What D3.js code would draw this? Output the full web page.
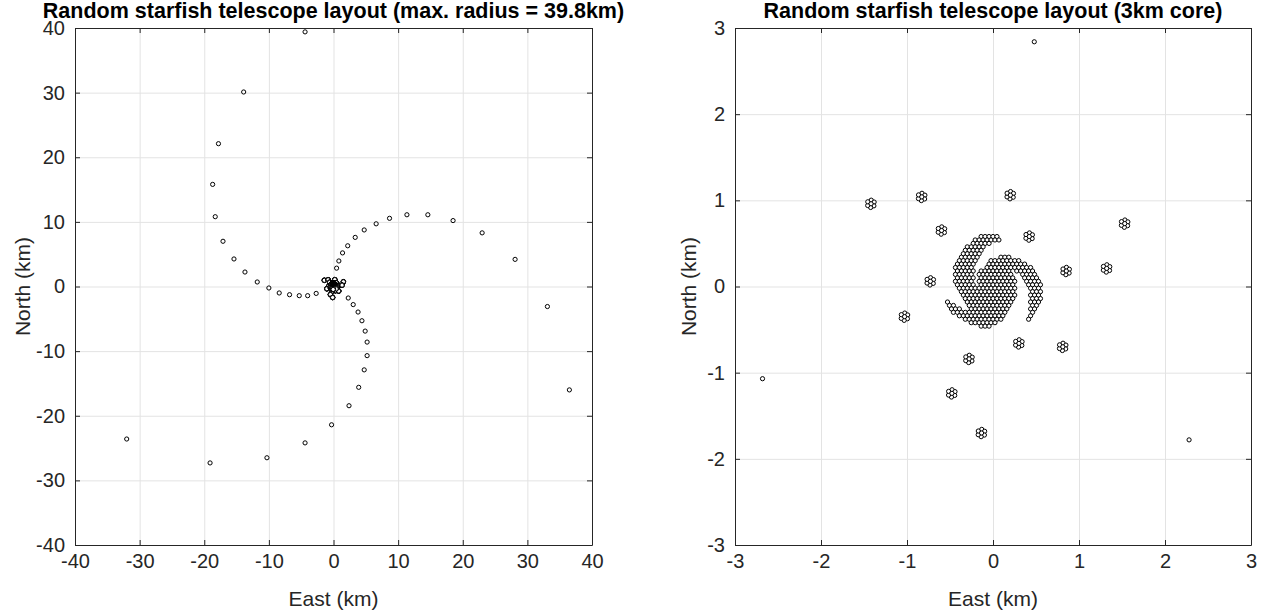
<!DOCTYPE html>
<html>
<head>
<meta charset="utf-8">
<script src="https://cdn.jsdelivr.net/npm/d3@7"></script>
<style>
  body { margin: 0; background: #fff; }
  text { font-family: "Liberation Sans", Arial, Helvetica, sans-serif; fill: #262626; }
  .title { font-weight: bold; font-size: 21.5px; fill: #000; }
  .axis text { font-size: 20px; fill: #262626; }
  .axis path, .axis line { stroke: #262626; }
  .grid line { stroke: #e3e3e3; }
  .grid path { display: none; }
  .label { font-size: 21px; }
  .station { fill: #fff; stroke: #000; stroke-width: 1; }
</style>
</head>
<body>
<svg id="chart" width="1271" height="615"></svg>
<script>
// Outer stations on the three arms (km)
const armNorthEast = [
  [0.48, 2.84], [0.83, 3.95], [1.4, 5.2], [2.2, 6.3], [3.36, 7.6], [4.75, 8.75],
  [6.6, 9.7], [8.67, 10.55], [11.36, 11.1], [14.6, 11.1], [18.5, 10.2], [23.0, 8.3],
  [28.1, 4.2], [33.1, -3.1], [36.5, -16.0]
];
const armSouth = [
  [2.28, -1.78], [3.05, -2.8], [3.8, -3.95], [4.4, -5.3], [4.9, -6.9], [5.2, -8.6],
  [5.2, -10.7], [4.75, -12.9], [3.9, -15.6], [2.4, -18.45], [-0.3, -21.4], [-4.4, -24.2],
  [-10.3, -26.5], [-19.1, -27.3], [-32.0, -23.6]
];
const armWest = [
  [-2.68, -1.07], [-4.0, -1.42], [-5.3, -1.42], [-6.8, -1.27], [-8.4, -1.0], [-10.0, -0.23],
  [-11.8, 0.7], [-13.7, 2.24], [-15.4, 4.26], [-17.1, 7.0], [-18.3, 10.8], [-18.7, 15.8],
  [-17.8, 22.1], [-13.9, 30.1], [-4.4, 39.4]
];

// Station clusters inside 2 km (centre of each cluster, km)
const clusterCentres = [
  [-1.42, 0.96], [-0.83, 1.04], [0.2, 1.06], [-0.6, 0.65], [0.42, 0.58], [1.53, 0.73],
  [-0.73, 0.06], [0.85, 0.18], [1.32, 0.21], [-1.03, -0.35], [0.3, -0.66], [0.81, -0.7],
  [-0.28, -0.84], [-0.48, -1.24], [-0.135, -1.7]
];
// stations inside one cluster (km from its centre)
const clusterOffsets = [
  [0.004, 0.042], [0.038, 0.02], [0.035, -0.024], [-0.003, -0.043], [-0.037, -0.02], [-0.036, 0.023], [0.002, 0.0]
];

// Core stations, read row by row (north in km, east positions in km)
const coreRows = [
  { y: 0.58, x: [-0.138, -0.092, -0.046, 0, 0.046] },
  { y: 0.54, x: [-0.207, -0.161, -0.115, -0.069, -0.023, 0.023, 0.069] },
  { y: 0.50, x: [-0.23, -0.184, -0.138, -0.092, -0.046] },
  { y: 0.46, x: [-0.299, -0.253, -0.207, -0.161, -0.115] },
  { y: 0.42, x: [-0.322, -0.276, -0.23, -0.184, -0.138] },
  { y: 0.38, x: [-0.345, -0.299, -0.253, -0.207, -0.161] },
  { y: 0.34, x: [-0.368, -0.322, -0.276, -0.23, -0.184, 0.092, 0.138, 0.184] },
  { y: 0.30, x: [-0.391, -0.345, -0.299, -0.253, -0.207, -0.023, 0.023, 0.069, 0.115, 0.161, 0.207, 0.253, 0.299] },
  { y: 0.26, x: [-0.414, -0.368, -0.322, -0.276, -0.23, -0.046, 0, 0.046, 0.092, 0.138, 0.184, 0.23, 0.276, 0.322, 0.368] },
  { y: 0.22, x: [-0.437, -0.391, -0.345, -0.299, -0.253, -0.069, -0.023, 0.023, 0.069, 0.115, 0.161, 0.207, 0.253, 0.299, 0.345, 0.391, 0.437] },
  { y: 0.18, x: [-0.414, -0.368, -0.322, -0.276, -0.23, -0.138, -0.092, -0.046, 0, 0.046, 0.092, 0.138, 0.184, 0.276, 0.322, 0.368, 0.414, 0.46] },
  { y: 0.14, x: [-0.437, -0.391, -0.345, -0.299, -0.253, -0.161, -0.115, -0.069, -0.023, 0.023, 0.069, 0.115, 0.161, 0.207, 0.345, 0.391, 0.437, 0.483] },
  { y: 0.10, x: [-0.414, -0.368, -0.322, -0.276, -0.23, -0.138, -0.092, -0.046, 0, 0.046, 0.092, 0.138, 0.184, 0.23, 0.368, 0.414, 0.46, 0.506] },
  { y: 0.06, x: [-0.437, -0.391, -0.345, -0.299, -0.253, -0.161, -0.115, -0.069, -0.023, 0.023, 0.069, 0.115, 0.161, 0.207, 0.253, 0.391, 0.437, 0.483, 0.529] },
  { y: 0.02, x: [-0.414, -0.368, -0.322, -0.276, -0.23, -0.138, -0.092, -0.046, 0, 0.046, 0.092, 0.138, 0.184, 0.23, 0.414, 0.46, 0.506, 0.552] },
  { y: -0.02, x: [-0.391, -0.345, -0.299, -0.253, -0.207, -0.161, -0.115, -0.069, -0.023, 0.023, 0.069, 0.115, 0.161, 0.207, 0.253, 0.437, 0.483, 0.529] },
  { y: -0.06, x: [-0.368, -0.322, -0.276, -0.23, -0.184, -0.138, -0.092, -0.046, 0, 0.046, 0.092, 0.138, 0.184, 0.23, 0.46, 0.506, 0.552] },
  { y: -0.10, x: [-0.345, -0.299, -0.253, -0.207, -0.161, -0.115, -0.069, -0.023, 0.023, 0.069, 0.115, 0.161, 0.207, 0.253, 0.437, 0.483, 0.529] },
  { y: -0.14, x: [-0.322, -0.276, -0.23, -0.184, -0.138, -0.092, -0.046, 0, 0.046, 0.092, 0.138, 0.184, 0.23, 0.46, 0.506, 0.552] },
  { y: -0.18, x: [-0.529, -0.299, -0.253, -0.207, -0.161, -0.115, -0.069, -0.023, 0.023, 0.069, 0.115, 0.161, 0.207, 0.437, 0.483, 0.529] },
  { y: -0.22, x: [-0.506, -0.46, -0.276, -0.23, -0.184, -0.138, -0.092, -0.046, 0, 0.046, 0.092, 0.138, 0.184, 0.46, 0.506] },
  { y: -0.26, x: [-0.483, -0.437, -0.391, -0.253, -0.207, -0.161, -0.115, -0.069, -0.023, 0.023, 0.069, 0.115, 0.161, 0.437, 0.483] },
  { y: -0.30, x: [-0.46, -0.414, -0.368, -0.322, -0.276, -0.23, -0.184, -0.138, -0.092, -0.046, 0, 0.046, 0.092, 0.138, 0.46] },
  { y: -0.34, x: [-0.391, -0.345, -0.299, -0.253, -0.207, -0.161, -0.115, -0.069, -0.023, 0.023, 0.069, 0.115, 0.437] },
  { y: -0.38, x: [-0.322, -0.276, -0.23, -0.184, -0.138, -0.092, -0.046, 0, 0.046, 0.092, 0.414] },
  { y: -0.42, x: [-0.253, -0.207, -0.161, -0.115, -0.069, -0.023, 0.023] },
  { y: -0.46, x: [-0.138, -0.092, -0.046] }
];

const leftTicks = [-40, -30, -20, -10, 0, 10, 20, 30, 40];
const rightTicks = [-3, -2, -1, 0, 1, 2, 3];

// every station of the layout
const clusterStations = [];
clusterCentres.forEach((c) => {
  clusterOffsets.forEach((o) => clusterStations.push([c[0] + o[0], c[1] + o[1]]));
});
const coreStations = [];
coreRows.forEach((row) => {
  row.x.forEach((e) => coreStations.push([e, row.y]));
});
const allStations = [].concat(armNorthEast, armSouth, armWest, clusterStations, coreStations);

const svg = d3.select("#chart");
const plotTop = 28, plotBottom = 545;

drawPanel({
  id: "left", left: 75, right: 592, domain: [-40, 40], ticks: leftTicks, yLabelX: 23,
  title: "Random starfish telescope layout (max. radius = 39.8km)"
});
drawPanel({
  id: "right", left: 735, right: 1251, domain: [-3, 3], ticks: rightTicks, yLabelX: 689,
  title: "Random starfish telescope layout (3km core)"
});

function drawPanel(cfg) {
  const w = cfg.right - cfg.left;
  const h = plotBottom - plotTop;

  const x = d3.scaleLinear().domain(cfg.domain).range([cfg.left, cfg.right]);
  const y = d3.scaleLinear().domain(cfg.domain).range([plotBottom, plotTop]);
  const fmt = (d) => String(d);

  // grid
  svg.append("g")
    .attr("class", "grid")
    .attr("transform", `translate(0, ${plotBottom})`)
    .call(d3.axisBottom(x).tickValues(cfg.ticks).tickSize(-h).tickFormat(""));
  svg.append("g")
    .attr("class", "grid")
    .attr("transform", `translate(${cfg.left}, 0)`)
    .call(d3.axisLeft(y).tickValues(cfg.ticks).tickSize(-w).tickFormat(""));

  // stations
  svg.append("clipPath")
    .attr("id", `clip-${cfg.id}`)
    .append("rect")
    .attr("x", cfg.left)
    .attr("y", plotTop)
    .attr("width", w)
    .attr("height", h);

  svg.append("g")
    .attr("clip-path", `url(#clip-${cfg.id})`)
    .selectAll("circle")
    .data(allStations)
    .enter()
    .append("circle")
    .attr("class", "station")
    .attr("cx", (d) => x(d[0]))
    .attr("cy", (d) => y(d[1]))
    .attr("r", 2.1);

  // axes, ticks pointing inwards on all four sides
  svg.append("g")
    .attr("class", "axis")
    .attr("transform", `translate(0, ${plotBottom})`)
    .call(d3.axisBottom(x).tickValues(cfg.ticks).tickFormat(fmt).tickSizeInner(-5).tickSizeOuter(0).tickPadding(9));
  svg.append("g")
    .attr("class", "axis")
    .attr("transform", `translate(${cfg.left}, 0)`)
    .call(d3.axisLeft(y).tickValues(cfg.ticks).tickFormat(fmt).tickSizeInner(-5).tickSizeOuter(0).tickPadding(10));
  svg.append("g")
    .attr("class", "axis")
    .attr("transform", `translate(0, ${plotTop})`)
    .call(d3.axisTop(x).tickValues(cfg.ticks).tickSizeInner(-5).tickSizeOuter(0).tickFormat(""));
  svg.append("g")
    .attr("class", "axis")
    .attr("transform", `translate(${cfg.right}, 0)`)
    .call(d3.axisRight(y).tickValues(cfg.ticks).tickSizeInner(-5).tickSizeOuter(0).tickFormat(""));

  // title and labels
  svg.append("text")
    .attr("class", "title")
    .attr("x", (cfg.left + cfg.right) / 2)
    .attr("y", 18)
    .attr("text-anchor", "middle")
    .text(cfg.title);

  svg.append("text")
    .attr("class", "label")
    .attr("x", (cfg.left + cfg.right) / 2)
    .attr("y", 606)
    .attr("text-anchor", "middle")
    .text("East (km)");

  svg.append("text")
    .attr("class", "label")
    .attr("transform", `translate(${cfg.yLabelX}, ${(plotTop + plotBottom) / 2}) rotate(-90)`)
    .attr("text-anchor", "middle")
    .attr("dy", "0.35em")
    .text("North (km)");
}
</script>
</body>
</html>
